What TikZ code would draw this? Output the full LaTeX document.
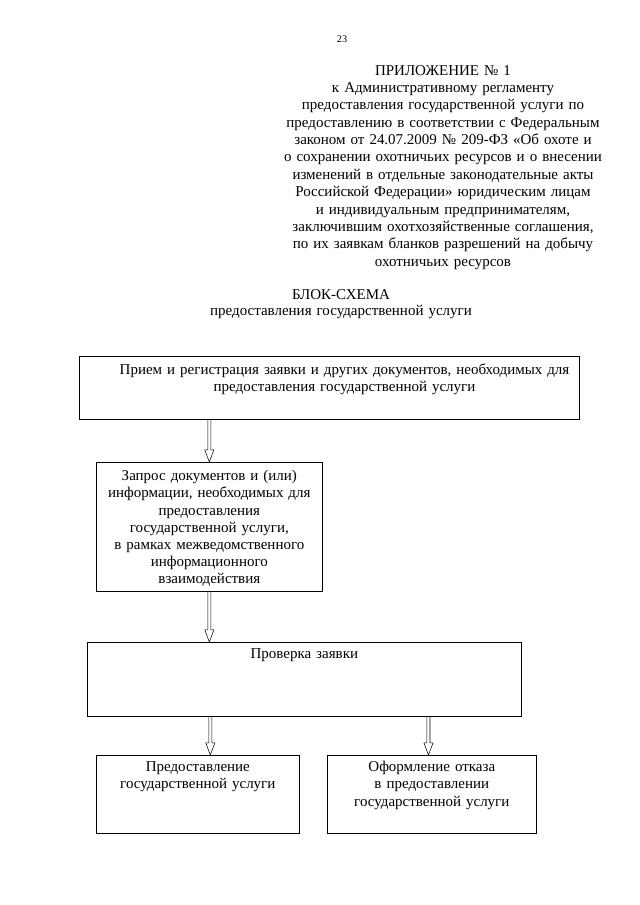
\documentclass[tikz,border=0pt]{standalone}
\usepackage{fontspec}
\setmainfont{Liberation Serif}
\usepackage{tikz}
\usetikzlibrary{calc}

\tikzset{
    blockbox/.style={
        draw,
        rectangle,
        line width=0.6pt,
        inner xsep=2mm,
        inner ysep=0pt,
        align=center,
        anchor=north west},
    blockarrow/.style={
        line width=0.5pt,
        to path={
            let \p1=(\tikztostart), \p2=(\tikztotarget) in
            (\x1-0.5mm,\y1) -- (\x1-0.5mm,\y2+4mm) -- (\x1-1.5mm,\y2+4mm)
            -- (\x1,\y2) -- (\x1+1.5mm,\y2+4mm) -- (\x1+0.5mm,\y2+4mm)
            -- (\x1+0.5mm,\y1)}}
}

\begin{document}
\begin{tikzpicture}[x=0.328125mm, y=-0.328125mm,
    font=\fontsize{14}{16}\selectfont]
    \useasboundingbox (0,0) rectangle (640,905);

    % page number
    \node[font=\fontsize{9.5}{11}\selectfont] (PageNum) at (342,39) {23};

    % appendix heading
    \node[
    text width=110mm,
    align=center,
    inner sep=0pt,
    text height=0pt,
    font=\fontsize{14}{16.2}\selectfont,
    anchor=north] (Appendix) at (443,75) {ПРИЛОЖЕНИЕ № 1\\
    к Административному регламенту\\
    предоставления государственной услуги по\\
    предоставлению в соответствии с Федеральным\\
    законом от 24.07.2009 № 209-ФЗ «Об охоте и\\
    о сохранении охотничьих ресурсов и о внесении\\
    изменений в отдельные законодательные акты\\
    Российской Федерации» юридическим лицам\\
    и индивидуальным предпринимателям,\\
    заключившим охотхозяйственные соглашения,\\
    по их заявкам бланков разрешений на добычу\\
    охотничьих ресурсов};

    % scheme title
    \node[
    text width=110mm,
    align=center,
    inner sep=0pt,
    text height=0pt,
    font=\fontsize{14}{15.4}\selectfont,
    anchor=north] (Title) at (341,299) {БЛОК-СХЕМА\\
    предоставления государственной услуги};

    % reception box
    \node[blockbox,
    text width=160.06mm,
    text height=5.9mm,
    text depth=14.77mm] (Reception) at (79,356)
    {\hspace*{10mm}Прием и регистрация заявки и других документов, необходимых для\\
    \hspace*{10mm}предоставления государственной услуги};

    % request box
    \node[blockbox,
    text width=70.16mm,
    text height=6.07mm,
    text depth=36.26mm] (Request) at (96,462)
    {Запрос документов и (или)\\
    информации, необходимых для\\
    предоставления\\
    государственной услуги,\\
    в рамках межведомственного\\
    информационного\\
    взаимодействия};

    % check box
    \node[blockbox,
    text width=138.41mm,
    text height=5.41mm,
    text depth=18.87mm] (Check) at (87,642)
    {Проверка заявки};

    % grant box
    \node[blockbox,
    text width=62.61mm,
    text height=5.41mm,
    text depth=20.18mm] (Grant) at (96,755)
    {Предоставление\\
    государственной услуги};

    % refusal box
    \node[blockbox,
    text width=64.58mm,
    text height=5.41mm,
    text depth=20.18mm] (Refusal) at (327,755)
    {Оформление отказа\\
    в предоставлении\\
    государственной услуги};

    % arrow entry points
    \coordinate (GrantIn) at ([xshift=4.1mm]Grant.north);
    \coordinate (RefusalIn) at ([xshift=-1.1mm]Refusal.north);

    % drawing connectors
    \draw[blockarrow] (Reception.south -| Request.north) to (Request.north);
    \draw[blockarrow] (Request.south) to (Request.south |- Check.north);
    \draw[blockarrow] (Check.south -| GrantIn) to (GrantIn);
    \draw[blockarrow] (Check.south -| RefusalIn) to (RefusalIn);

\end{tikzpicture}
\end{document}
